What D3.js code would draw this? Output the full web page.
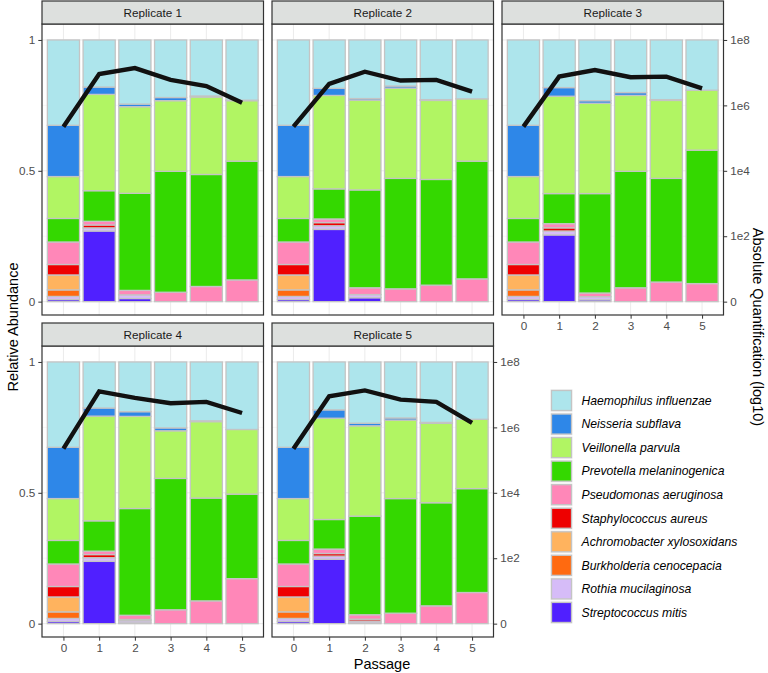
<!DOCTYPE html>
<html><head><meta charset="utf-8">
<script src="https://cdn.jsdelivr.net/npm/d3@7"></script>
<style>body{margin:0;background:#fff}svg{display:block}text{font-family:"Liberation Sans",Arial,sans-serif}</style>
</head><body><svg id="c" width="768" height="673"></svg>
<script>
// ---- data ----
const species = ["Haemophilus influenzae","Neisseria subflava","Veillonella parvula","Prevotella melaninogenica","Pseudomonas aeruginosa","Staphylococcus aureus","Achromobacter xylosoxidans","Burkholderia cenocepacia","Rothia mucilaginosa","Streptococcus mitis"];
const speciesColors = ["#ADE5EC","#2E87E8","#B1F563","#34D800","#FF87B8","#EE0000","#FFB35E","#FF6A10","#D6BCF8","#5020FF"];
const passages = [0,1,2,3,4,5];
const replicates = ["Replicate 1","Replicate 2","Replicate 3","Replicate 4","Replicate 5"];
// each row: one passage; values in species order (Haem, Neis, Veil, Prev, Pseudo, Staph, Achro, Burk, Rothia, Strep)
const rep1 = [
 [.326,.196,.16,.09,.086,.04,.057,.025,.012,.008],
 [.18,.028,.368,.117,.014,.011,0,0,.012,.27],
 [.245,.01,.331,.371,.017,0,0,0,.014,.012],
 [.22,.012,.27,.462,.036,0,0,0,0,0],
 [.214,.004,.296,.428,.058,0,0,0,0,0],
 [.23,.002,.231,.454,.083,0,0,0,0,0]];
const rep2 = [
 [.326,.196,.16,.09,.086,.04,.057,.025,.012,.008],
 [.185,.027,.357,.115,.014,.012,0,0,.014,.276],
 [.224,.006,.343,.374,.026,0,0,0,.012,.015],
 [.176,.008,.345,.422,.049,0,0,0,0,0],
 [.228,.003,.302,.404,.063,0,0,0,0,0],
 [.225,0,.238,.45,.087,0,0,0,0,0]];
const rep3 = [
 [.326,.196,.16,.09,.086,.04,.057,.025,.012,.008],
 [.182,.033,.372,.115,.016,.012,0,0,.015,.255],
 [.232,.01,.345,.38,.014,0,0,0,.012,.007],
 [.201,.011,.29,.445,.053,0,0,0,0,0],
 [.228,.003,.298,.396,.075,0,0,0,0,0],
 [.192,0,.229,.51,.069,0,0,0,0,0]];
const rep4 = [
 [.326,.196,.16,.09,.086,.04,.057,.025,.012,.008],
 [.176,.031,.4,.116,.013,.012,0,0,.014,.238],
 [.19,.018,.352,.408,.016,.005,0,0,.008,.003],
 [.252,.011,.182,.502,.053,0,0,0,0,0],
 [.225,.003,.292,.393,.087,0,0,0,0,0],
 [.258,0,.247,.323,.172,0,0,0,0,0]];
const rep5 = [
 [.326,.196,.16,.09,.086,.04,.057,.025,.012,.008],
 [.183,.032,.387,.113,.017,.01,0,0,.012,.246],
 [.234,.01,.345,.377,.017,.007,0,0,.007,.003],
 [.214,.008,.3,.438,.04,0,0,0,0,0],
 [.231,.003,.304,.394,.068,0,0,0,0,0],
 [.219,0,.265,.397,.119,0,0,0,0,0]];
// absolute quantification, log10 copies per passage
const absLog1 = [5.35,6.96,7.14,6.78,6.59,6.08];
const absLog2 = [5.35,6.66,7.03,6.76,6.78,6.42];
const absLog3 = [5.35,6.88,7.08,6.86,6.88,6.52];
const absLog4 = [5.35,7.10,6.90,6.74,6.78,6.44];
const absLog5 = [5.35,6.95,7.13,6.85,6.78,6.14];
const leftTicks = [0,0.5,1];
const leftTickLabels = ["0","0.5","1"];
const rightTicks = [0,2,4,6,8];
const rightTickLabels = ["0","1e2","1e4","1e6","1e8"];

const repData = [rep1,rep2,rep3,rep4,rep5];
const absData = [absLog1,absLog2,absLog3,absLog4,absLog5];

// ---- layout ----
const svg = d3.select("#c");
const panelW = 221.5, panelH = 291, stripH = 23;
const colX = [42, 272, 502];
const rowY = [1, 323]; // strip tops
const panels = [
 {r:0,c:0,left:true,right:false,bottom:false},
 {r:0,c:1,left:false,right:false,bottom:false},
 {r:0,c:2,left:false,right:true,bottom:true},
 {r:1,c:0,left:true,right:false,bottom:true},
 {r:1,c:1,left:false,right:true,bottom:true}];
const gray = "#4D4D4D";

panels.forEach((p,i)=>{
  const x0 = colX[p.c], sy = rowY[p.r], y0 = sy + stripH, y1 = y0 + panelH;
  const x = d3.scaleLinear().domain([-0.6,5.6]).range([x0, x0+panelW]);
  const y = d3.scaleLinear().domain([-0.051,1.061]).range([y1, y0]);
  const y2 = d3.scaleLinear().domain([0,8]).range([y(0), y(1)]);
  const g = svg.append("g");
  // grid
  const minor = [0.25,0.75];
  g.selectAll(".gmin").data(minor).join("line").attr("x1",x0).attr("x2",x0+panelW)
    .attr("y1",d=>y(d)).attr("y2",d=>y(d)).attr("stroke","#F2F2F2").attr("stroke-width",0.6);
  g.selectAll(".gmaj").data(leftTicks).join("line").attr("x1",x0).attr("x2",x0+panelW)
    .attr("y1",d=>y(d)).attr("y2",d=>y(d)).attr("stroke","#EBEBEB").attr("stroke-width",1);
  g.selectAll(".gx").data(passages).join("line").attr("y1",y0).attr("y2",y1)
    .attr("x1",d=>x(d)).attr("x2",d=>x(d)).attr("stroke","#EBEBEB").attr("stroke-width",1);
  // bars
  const data = repData[i];
  passages.forEach((ps,pi)=>{
    const vals = data[pi];
    let cum = 0;
    for(let s=species.length-1;s>=0;s--){
      const v = vals[s];
      if(v<=0) continue;
      g.append("rect").attr("x",x(ps-0.45)).attr("width",x(ps+0.45)-x(ps-0.45))
        .attr("y",y(cum+v)).attr("height",y(cum)-y(cum+v))
        .attr("fill",speciesColors[s]).attr("stroke","#C4C4C4").attr("stroke-width",1.3);
      cum += v;
    }
  });
  // line
  const line = d3.line().x((d,k)=>x(passages[k])).y(d=>y2(d));
  g.append("path").datum(absData[i]).attr("d",line).attr("fill","none")
    .attr("stroke","#111").attr("stroke-width",4.4).attr("stroke-linejoin","miter");
  // border
  g.append("rect").attr("x",x0).attr("y",y0).attr("width",panelW).attr("height",panelH)
    .attr("fill","none").attr("stroke","#333").attr("stroke-width",1.2);
  // strip
  g.append("rect").attr("x",x0).attr("y",sy).attr("width",panelW).attr("height",stripH)
    .attr("fill","#DDE0DE").attr("stroke","#333").attr("stroke-width",1.2);
  g.append("text").attr("x",x0+panelW/2).attr("y",sy+stripH/2).attr("dy","0.35em")
    .attr("text-anchor","middle").attr("font-size",11.7).attr("fill","#1A1A1A").text(replicates[i]);
  // axes
  if(p.left){
    const ax = g.append("g").attr("transform",`translate(${x0},0)`)
      .call(d3.axisLeft(y).tickValues(leftTicks).tickFormat((d,k)=>leftTickLabels[k]).tickSize(3.7).tickPadding(3));
    ax.select(".domain").remove();
    ax.selectAll("line").attr("stroke","#333");
    ax.selectAll("text").attr("font-size",11.7).attr("fill",gray).attr("font-family","Liberation Sans, Arial, sans-serif");
  }
  if(p.right){
    const ax = g.append("g").attr("transform",`translate(${x0+panelW},0)`)
      .call(d3.axisRight(y2).tickValues(rightTicks).tickFormat((d,k)=>rightTickLabels[k]).tickSize(3.7).tickPadding(3));
    ax.select(".domain").remove();
    ax.selectAll("line").attr("stroke","#333");
    ax.selectAll("text").attr("font-size",11.7).attr("fill",gray).attr("font-family","Liberation Sans, Arial, sans-serif");
  }
  if(p.bottom){
    const ax = g.append("g").attr("transform",`translate(0,${y1})`)
      .call(d3.axisBottom(x).tickValues(passages).tickFormat(d3.format("d")).tickSize(3.7).tickPadding(3));
    ax.select(".domain").remove();
    ax.selectAll("line").attr("stroke","#333");
    ax.selectAll("text").attr("font-size",11.7).attr("fill",gray).attr("font-family","Liberation Sans, Arial, sans-serif");
  }
});

// axis titles
svg.append("text").attr("transform","translate(13,327) rotate(-90)").attr("text-anchor","middle")
  .attr("dy","0.35em").attr("font-size",14.5).attr("fill","#000").text("Relative Abundance");
svg.append("text").attr("transform","translate(758,327) rotate(90)").attr("text-anchor","middle")
  .attr("dy","0.35em").attr("font-size",14.5).attr("fill","#000").text("Absolute Quantification (log10)");
svg.append("text").attr("x",382).attr("y",664).attr("text-anchor","middle")
  .attr("dy","0.35em").attr("font-size",14.5).attr("fill","#000").text("Passage");

// legend
const leg = svg.append("g");
species.forEach((s,k)=>{
  const cy = 400.5 + k*23.55;
  leg.append("rect").attr("x",550.5).attr("y",cy-11.5).attr("width",22).attr("height",23)
    .attr("fill","#F2F2F2").attr("stroke","none");
  leg.append("rect").attr("x",551.5).attr("y",cy-10).attr("width",20).attr("height",20)
    .attr("fill",speciesColors[k]).attr("stroke","#C4C4C4").attr("stroke-width",1.3);
  leg.append("text").attr("x",581.5).attr("y",cy).attr("dy","0.35em").attr("font-size",12.2)
    .attr("font-style","italic").attr("fill","#000").text(s);
});
</script></body></html>
